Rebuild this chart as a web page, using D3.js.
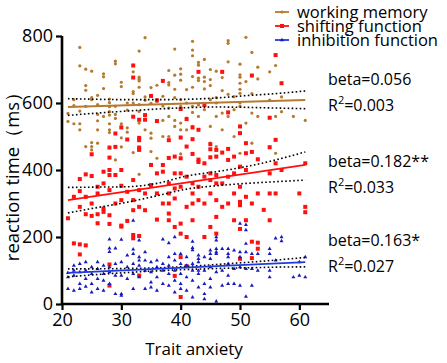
<!DOCTYPE html>
<html><head><meta charset="utf-8">
<script src="https://cdn.jsdelivr.net/npm/d3@7"></script>
<style>body{margin:0;background:#fff}svg{display:block}text{font-family:"Open Sans",sans-serif}</style>
</head><body>
<script>
// ---------- data ----------
const seriesNames = ["working memory", "shifting function", "inhibition function"];
const xTicks = [20, 30, 40, 50, 60];
const yTicks = [0, 200, 400, 600, 800];

// working memory (x = trait anxiety, y = reaction time)
const wmX = [21,21,22,22,22,23,23,23,23,23,24,24,24,24,24,25,25,25,25,25,25,26,26,26,26,26,26,27,27,27,27,27,
  28,28,28,28,28,28,28,28,29,29,29,29,29,29,30,30,30,30,30,30,30,31,31,31,31,32,32,32,32,32,
  33,33,33,33,33,33,33,33,33,34,34,34,34,35,35,35,35,35,36,36,36,36,37,37,37,37,
  38,38,38,38,38,38,38,39,39,39,39,39,39,40,40,40,40,40,40,40,40,41,41,41,41,
  42,42,42,42,42,42,42,42,43,43,43,43,43,43,44,44,44,44,44,45,45,45,45,45,45,46,46,46,46,46,
  47,47,47,47,48,48,48,48,48,49,49,49,50,50,50,50,50,50,50,50,50,51,51,51,52,52,52,52,53,53,53,
  55,55,56,56,56,57,57,59,61];
const wmY = [569,545,592,538,610,766,711,576,538,520,701,652,638,470,590,695,616,482,470,460,610,623,566,547,520,480,595,687,678,643,395,560,
  612,601,589,574,564,538,520,512,725,717,566,554,590,430,662,649,538,529,496,469,400,579,526,513,600,693,634,628,452,600,
  755,677,671,666,647,595,575,387,540,795,618,608,520,646,599,510,495,455,653,548,435,605,591,548,620,500,
  697,661,654,500,436,585,560,761,683,641,616,548,530,702,686,668,448,610,590,540,520,640,600,555,520,
  784,758,741,679,647,572,530,590,721,713,674,667,594,560,730,677,664,642,580,700,670,652,610,530,480,695,616,600,560,470,
  676,637,570,520,786,778,723,626,560,619,580,500,716,684,677,659,641,629,600,590,450,796,664,540,751,628,570,480,707,672,560,
  693,609,712,560,450,618,574,560,548];

// shifting function
const shX = [21,22,22,23,23,23,23,23,24,24,24,24,25,25,25,25,26,26,26,26,27,27,27,27,
  28,28,28,28,28,28,28,28,28,29,29,29,29,30,30,30,30,30,30,31,31,31,32,32,32,32,32,32,32,32,
  33,33,33,33,33,33,33,33,33,34,34,34,34,35,35,35,36,36,36,36,36,37,37,37,37,
  38,38,38,38,38,38,38,39,39,39,39,39,39,40,40,40,40,40,40,40,40,40,41,41,41,41,41,41,
  42,42,42,42,42,42,42,43,43,43,43,43,43,44,44,44,44,44,45,45,45,45,45,45,45,46,46,46,46,46,46,46,
  47,47,47,47,48,48,48,48,48,49,49,49,49,50,50,50,50,50,50,50,50,51,51,51,51,51,52,52,52,52,52,53,53,53,53,
  54,55,55,55,55,55,56,56,56,56,57,57,60,61,61,61];
const shY = [256,181,320,373,337,178,148,290,387,320,268,175,447,382,263,300,350,241,330,268,395,360,285,275,
  467,437,400,385,265,239,118,55,340,509,469,385,300,527,400,353,310,234,231,491,335,248,712,676,559,370,280,206,196,310,
  550,496,489,467,460,340,203,85,290,564,550,330,280,621,415,355,608,546,390,330,252,666,415,395,300,
  489,436,360,330,300,270,250,440,390,345,315,230,84,582,497,435,390,350,240,210,21,140,552,470,380,290,200,113,
  527,492,448,360,330,300,250,693,520,431,424,350,310,594,420,380,300,200,477,462,438,390,370,330,230,460,440,385,360,310,260,210,
  693,452,360,290,572,463,430,380,300,440,390,330,250,530,510,410,350,305,295,224,135,480,450,400,320,250,682,454,300,186,137,432,330,183,165,
  281,556,468,390,330,250,743,490,420,330,659,400,330,420,274,290];

// inhibition function
const inX = [21,21,21,22,22,22,22,23,23,23,23,24,24,24,24,25,25,25,25,26,26,26,26,27,27,27,27,
  28,28,28,28,28,28,29,29,29,29,30,30,30,30,30,31,31,31,32,32,32,32,32,32,33,33,33,33,33,
  34,34,34,34,35,35,35,35,36,36,36,36,37,37,37,37,38,38,38,38,38,39,39,39,39,39,39,
  40,40,40,40,40,41,41,41,41,42,42,42,42,42,42,42,43,43,43,43,43,43,44,44,44,44,44,
  45,45,45,45,45,45,46,46,46,46,46,46,46,47,47,47,48,48,48,48,48,48,49,49,49,
  50,50,50,50,50,51,51,51,51,51,51,52,52,52,53,53,55,55,55,55,56,56,57,57,59,60,60,61,61];
const inY = [93,80,45,115,100,85,40,120,95,60,45,125,100,75,52,110,90,60,35,125,105,75,45,115,90,70,40,
  193,166,156,110,95,60,166,120,85,30,192,125,85,30,25,145,110,75,249,163,150,120,90,45,190,140,130,115,80,
  155,130,100,45,125,95,65,50,130,110,80,40,193,120,100,60,182,140,115,90,55,200,150,130,100,70,35,
  150,120,90,60,45,140,115,80,40,186,168,161,120,100,70,20,145,135,125,100,90,50,140,100,60,30,15,
  160,150,135,110,75,50,200,190,165,155,150,95,8,165,100,55,165,150,140,120,85,60,160,105,60,
  240,155,140,110,55,236,221,180,155,105,22,150,105,55,150,100,165,150,100,80,196,130,200,188,80,85,125,140,80];

// fitted lines (value at x=21 and x=61)
const fitX = [21, 61];
const wmFit = [588, 609];
const shFit = [310, 415];
const inFit = [93, 125];

// 95% confidence bands
const bandX = [21, 26, 31, 36, 41, 46, 51, 56, 61];
const wmUpper = [613, 611, 610, 610, 611, 615, 622, 628, 636];
const wmLower = [563, 570, 576, 582, 586, 588, 587, 585, 583];
const shUpper = [348, 349, 350, 360, 382, 395, 410, 430, 454];
const shLower = [272, 288, 304, 323, 343, 353, 360, 365, 370];
const inUpper = [105, 105, 106, 108, 112, 118, 124, 131, 139];
const inLower = [81, 88, 94, 99, 103, 106, 108, 110, 111];

const stats = [
  ["beta=0.056", "0.003"],
  ["beta=0.182**", "0.033"],
  ["beta=0.163*", "0.027"]
];

// ---------- drawing ----------
const W = 447, H = 363;
const svg = d3.select("body").append("svg").attr("width", W).attr("height", H);
const x = d3.scaleLinear().domain([20, 65]).range([62, 329]);
const y = d3.scaleLinear().domain([0, 800]).range([304, 36]);

const cWM = "#b57a30", cSH = "#ff1010", cIN = "#1818c0", cINline = "#1e3ae0";

// points
const wmData = wmX.map((d, i) => [d, wmY[i]]);
const shData = shX.map((d, i) => [d, shY[i]]);
const inData = inX.map((d, i) => [d, inY[i]]);

svg.append("g").selectAll("circle").data(wmData).join("circle")
  .attr("cx", d => x(d[0])).attr("cy", d => y(d[1])).attr("r", 1.6).attr("fill", cWM);
svg.append("g").selectAll("rect").data(shData).join("rect")
  .attr("x", d => x(d[0]) - 2).attr("y", d => y(d[1]) - 2).attr("width", 4).attr("height", 4).attr("fill", cSH);
const tri = d3.symbol().type(d3.symbolTriangle).size(7);
svg.append("g").selectAll("path").data(inData).join("path")
  .attr("transform", d => `translate(${x(d[0])},${y(d[1])})`).attr("d", tri).attr("fill", cIN);

// bands
const bandLine = d3.line().x(d => x(d[0])).y(d => y(d[1])).curve(d3.curveMonotoneX);
[[wmUpper, wmLower], [shUpper, shLower], [inUpper, inLower]].forEach(([u, l]) => {
  [u, l].forEach(arr => {
    svg.append("path").datum(bandX.map((d, i) => [d, arr[i]]))
      .attr("d", bandLine).attr("fill", "none").attr("stroke", "#000")
      .attr("stroke-width", 1.6).attr("stroke-dasharray", "1.6,2.4");
  });
});

// fits
const fitLine = d3.line().x(d => x(d[0])).y(d => y(d[1]));
[[wmFit, cWM], [shFit, cSH], [inFit, cINline]].forEach(([f, c]) => {
  svg.append("path").datum(fitX.map((d, i) => [d, f[i]]))
    .attr("d", fitLine).attr("fill", "none").attr("stroke", c).attr("stroke-width", 1.8);
});

// axes
const xAxis = svg.append("g").attr("transform", "translate(0,304)")
  .call(d3.axisBottom(x).tickValues(xTicks).tickSize(6).tickPadding(3));
const yAxis = svg.append("g").attr("transform", "translate(62,0)")
  .call(d3.axisLeft(y).tickValues(yTicks).tickSize(6).tickPadding(3));
[xAxis, yAxis].forEach(a => {
  a.select(".domain").attr("stroke", "#000").attr("stroke-width", 2.6);
  a.selectAll(".tick line").attr("stroke", "#000").attr("stroke-width", 2.2);
  a.selectAll("text").attr("font-size", 18).attr("fill", "#000").attr("font-family", "Open Sans, sans-serif");
});
xAxis.select(".domain").attr("d", "M62,0H329");
yAxis.select(".domain").attr("d", "M0,304V36");

svg.append("text").attr("x", 194).attr("y", 355).attr("text-anchor", "middle")
  .attr("font-size", 17).text("Trait anxiety");
svg.append("text").attr("transform", "translate(19,172) rotate(-90)").attr("text-anchor", "middle")
  .attr("font-size", 18.5).text("reaction time（ms）");

// legend
const legColors = [cWM, cSH, cINline];
const leg = svg.append("g");
seriesNames.forEach((n, i) => {
  const yy = 12 + i * 14;
  leg.append("line").attr("x1", 275).attr("x2", 289).attr("y1", yy).attr("y2", yy)
    .attr("stroke", legColors[i]).attr("stroke-width", 1.8);
  if (i === 0) leg.append("circle").attr("cx", 282).attr("cy", yy).attr("r", 1.6).attr("fill", cWM);
  if (i === 1) leg.append("rect").attr("x", 280).attr("y", yy - 2).attr("width", 4).attr("height", 4).attr("fill", cSH);
  if (i === 2) leg.append("path").attr("transform", `translate(282,${yy})`).attr("d", tri).attr("fill", cIN);
  leg.append("text").attr("x", 297).attr("y", yy + 6).attr("font-size", 16.5).text(n);
});

// stats annotations
const statY = [85, 167, 246];
stats.forEach((s, i) => {
  svg.append("text").attr("x", 328).attr("y", statY[i]).attr("font-size", 16).text(s[0]);
  const t = svg.append("text").attr("x", 328).attr("y", statY[i] + 26).attr("font-size", 16);
  t.append("tspan").text("R");
  t.append("tspan").attr("dy", -7).attr("font-size", 11).text("2");
  t.append("tspan").attr("dy", 7).text("=" + s[1]);
});
</script>
</body></html>
